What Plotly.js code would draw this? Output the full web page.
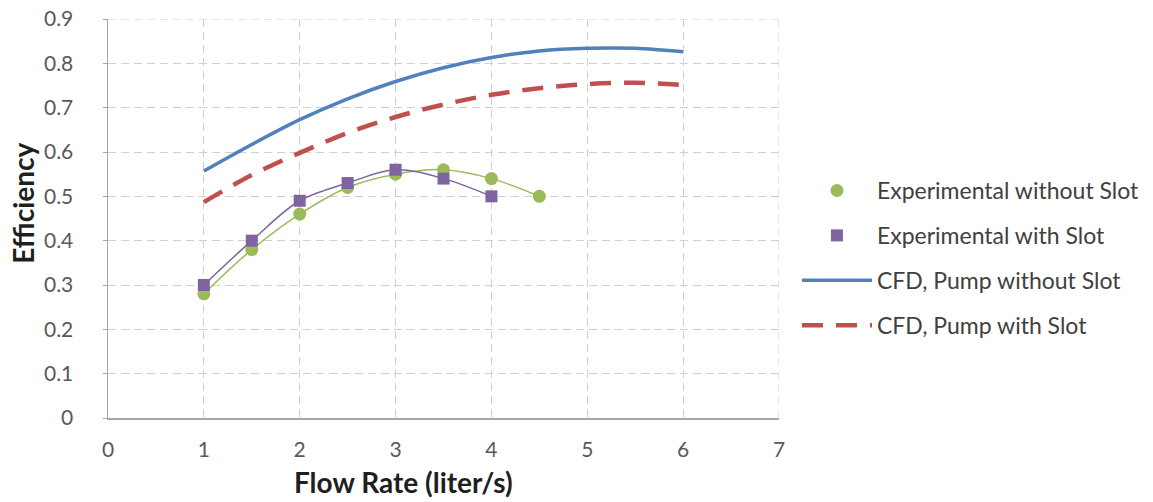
<!DOCTYPE html>
<html>
<head>
<meta charset="utf-8">
<script src="https://cdn.plot.ly/plotly-3.0.1.min.js"></script>
<style>html,body{margin:0;padding:0;background:#fff;}#chart{width:1153px;height:502px;}</style>
</head>
<body>
<div id="chart"></div>
<script>
// Data
const expFlow = [1, 1.5, 2, 2.5, 3, 3.5, 4, 4.5];
const expWithoutSlot = [0.28, 0.38, 0.46, 0.52, 0.55, 0.56, 0.54, 0.50];
const expSlotFlow = [1, 1.5, 2, 2.5, 3, 3.5, 4];
const expWithSlot = [0.30, 0.40, 0.49, 0.53, 0.56, 0.54, 0.50];
const cfdFlow = [1, 1.5, 2, 2.5, 3, 3.5, 4, 4.5, 5, 5.5, 6];
const cfdWithoutSlot = [0.557, 0.617, 0.673, 0.720, 0.759, 0.790, 0.813, 0.828, 0.834, 0.834, 0.826];
const cfdWithSlot = [0.487, 0.548, 0.598, 0.643, 0.679, 0.707, 0.729, 0.744, 0.753, 0.756, 0.751];
const seriesNames = ["Experimental without Slot", "Experimental with Slot", "CFD, Pump without Slot", "CFD, Pump with Slot"];
const xTitle = "Flow Rate (liter/s)";
const yTitle = "Efficiency";
const xTicks = [0, 1, 2, 3, 4, 5, 6, 7];
const yTicks = [0, 0.1, 0.2, 0.3, 0.4, 0.5, 0.6, 0.7, 0.8, 0.9];

const green = '#9BBB59', purple = '#8064A2', blue = '#4F81BD', red = '#C0504D';
const FONT = 'Lato, "Open Sans", sans-serif';

const traces = [
  {x: expFlow, y: expWithoutSlot, mode: 'lines', line: {color: green, width: 1.5, shape: 'spline'}, showlegend: false, hoverinfo: 'skip'},
  {x: expSlotFlow, y: expWithSlot, mode: 'lines', line: {color: purple, width: 1.5, shape: 'spline'}, showlegend: false, hoverinfo: 'skip'},
  {x: expFlow, y: expWithoutSlot, mode: 'markers', name: seriesNames[0], legendgroup: 'a',
   marker: {color: green, size: 13, symbol: 'circle'}},
  {x: expSlotFlow, y: expWithSlot, mode: 'markers', name: seriesNames[1], legendgroup: 'b',
   marker: {color: purple, size: 12, symbol: 'square'}},
  {x: cfdFlow, y: cfdWithoutSlot, mode: 'lines', name: seriesNames[2], legendgroup: 'c',
   line: {color: blue, width: 3.5, shape: 'spline'}},
  {x: cfdFlow, y: cfdWithSlot, mode: 'lines', name: seriesNames[3], legendgroup: 'd',
   line: {color: red, width: 4.5, shape: 'spline', dash: '21px,13px'}}
];

const layout = {
  width: 1153, height: 502,
  margin: {l: 108, r: 374, t: 19, b: 84},
  paper_bgcolor: '#fff', plot_bgcolor: '#fff',
  font: {family: FONT, color: '#595959'},
  xaxis: {
    range: [0, 7], tickvals: xTicks, ticktext: xTicks.map(String),
    showgrid: true, gridcolor: '#d0d0d0', griddash: '8px,5px', gridwidth: 1,
    showline: true, linecolor: '#a6a6a6', linewidth: 1.5,
    zeroline: false, ticks: '', ticklabelstandoff: 12,
    tickfont: {size: 21, color: '#595959', family: FONT},
    fixedrange: true
  },
  yaxis: {
    range: [0, 0.9], tickvals: yTicks, ticktext: yTicks.map(v => v === 0 ? '0' : v.toFixed(1)),
    showgrid: true, gridcolor: '#d0d0d0', griddash: '8px,5px', gridwidth: 1,
    showline: true, linecolor: '#a6a6a6', linewidth: 1.5,
    zeroline: false, ticks: 'outside', ticklen: 4, tickcolor: '#a6a6a6', ticklabelstandoff: 25,
    tickfont: {size: 21, color: '#595959', family: FONT},
    fixedrange: true
  },
  legend: {
    xref: 'container', yref: 'container',
    x: 0.6912, xanchor: 'left', y: 0.486, yanchor: 'middle',
    font: {size: 23, color: '#404040', family: FONT},
    traceorder: 'grouped', tracegroupgap: 12, itemwidth: 70,
    bgcolor: 'rgba(0,0,0,0)'
  },
  annotations: [
    {text: '<b>' + xTitle + '</b>', xref: 'paper', yref: 'paper', x: 0.44, y: -0.16,
     xanchor: 'center', yanchor: 'middle', showarrow: false, font: {size: 28, color: '#1f1f1f', family: FONT}},
    {text: '<b>' + yTitle + '</b>', xref: 'paper', yref: 'paper', x: -0.127, y: 0.539, textangle: -90,
     xanchor: 'center', yanchor: 'middle', showarrow: false, font: {size: 28, color: '#1f1f1f', family: FONT}}
  ],
  shapes: [
    {type: 'line', xref: 'x', yref: 'y', x0: 7, x1: 7, y0: 0, y1: 0.9, line: {color: '#d0d0d0', width: 1, dash: '8px,5px'}},
    {type: 'line', xref: 'x', yref: 'y', x0: 0, x1: 7, y0: 0.9, y1: 0.9, line: {color: '#d0d0d0', width: 1, dash: '8px,5px'}}
  ]
};

Plotly.newPlot('chart', traces, layout, {displayModeBar: false, staticPlot: true});
</script>
</body>
</html>
